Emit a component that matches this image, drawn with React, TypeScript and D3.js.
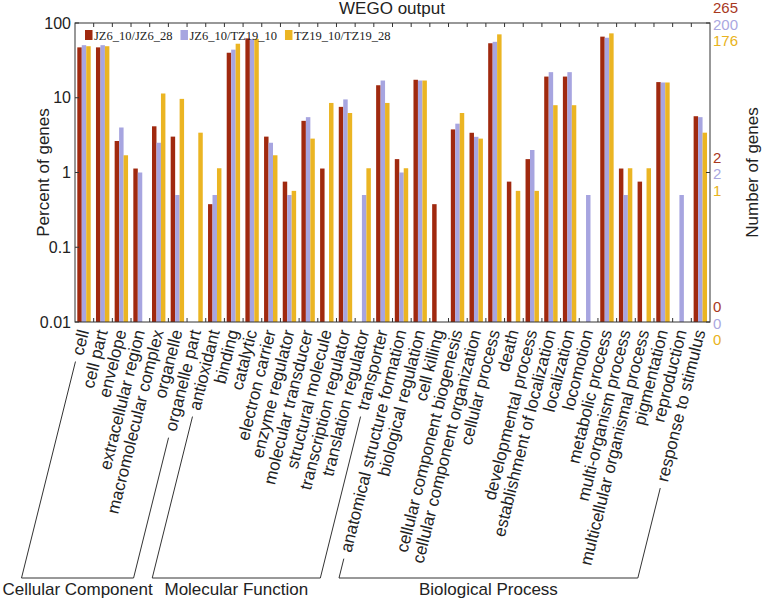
import * as d3 from "d3";

const categories = [
  "cell", "cell part", "envelope", "extracellular region", "macromolecular complex",
  "organelle", "organelle part", "antioxidant", "binding", "catalytic", "electron carrier",
  "enzyme regulator", "molecular transducer", "structural molecule", "transcription regulator",
  "translation regulator", "transporter", "anatomical structure formation", "biological regulation",
  "cell killing", "cellular component biogenesis", "cellular component organization",
  "cellular process", "death", "developmental process", "establishment of localization",
  "localization", "locomotion", "metabolic process", "multi-organism process",
  "multicellular organismal process", "pigmentation", "reproduction", "response to stimulus",
];

const groupNames = ["Cellular Component", "Molecular Function", "Biological Process"];
const groupSizes = [7, 10, 17];

const seriesNames = ["JZ6_10/JZ6_28", "JZ6_10/TZ19_10", "TZ19_10/TZ19_28"];
const seriesTotals = [265, 200, 176];
const seriesColors = ["#a0290f", "#a7a5e0", "#ebb523"];
const labelColors = ["#a8381e", "#aaa7df", "#e9b320"];

// percent of genes, null = no bar
const jz6Jz6 = [47.2, 47.2, 2.64, 1.13, 4.15, 3.02, null, 0.377, 40.0, 62.3, 3.02, 0.755, 4.91, 1.13, 7.55, null,
  14.7, 1.51, 17.4, 0.377, 3.77, 3.40, 53.6, 0.755, 1.51, 19.2, 19.2, null, 65.7, 1.13, 0.755, 16.2, null, 5.66];
const jz6Tz19 = [50.5, 50.5, 4.0, 1.0, 2.5, 0.5, null, 0.5, 44.0, 61.0, 2.5, 0.5, 5.5, null, 9.5, 0.5,
  17.0, 1.0, 17.0, null, 4.5, 3.0, 56.0, null, 2.0, 22.0, 22.0, 0.5, 63.5, 0.5, null, 16.0, 0.5, 5.5];
const tz19Tz19 = [48.9, 48.9, 1.70, null, 11.4, 9.66, 3.41, 1.14, 52.8, 61.4, 1.70, 0.568, 2.84, 8.52, 6.25, 1.14,
  8.52, 1.14, 17.0, null, 6.25, 2.84, 70.5, 0.568, 0.568, 7.95, 7.95, null, 72.7, 1.14, 1.14, 16.0, null, 3.41];
const seriesValues = [jz6Jz6, jz6Tz19, tz19Tz19];

const leftTicks = [100, 10, 1, 0.1, 0.01];
const rightTicks = [100, 1, 0.01];

const W = 762;
const H = 601;
const left = 75, right = 710, top = 23, bottom = 322;
const sans = "'Liberation Sans', Arial, sans-serif";
const ink = "#222";

// measure text width for the bracket lines
const ctx = document.createElement("canvas").getContext("2d");
function textWidth(s: string, font: string) {
  if (!ctx) return s.length * 8;
  ctx.font = font;
  return ctx.measureText(s).width;
}

export default function App() {
  const x = d3.scaleBand<string>().domain(categories).range([left, right]);
  const xs = d3.scaleBand<number>().domain([0, 1, 2]).range([2.3, 15.7]);
  const y = d3.scaleLog().domain([0.01, 100]).range([bottom, top]);

  const ang = 76;
  const rad = (ang * Math.PI) / 180;
  const dir = [-Math.cos(rad), Math.sin(rad)];
  const labelY = 330;
  const endX = (i: number) => (x(categories[i]) ?? 0) + x.bandwidth() / 2 - 1;
  const bracketY = 578;

  // where the bracket leg meets the label line
  const legTop = (i: number) => {
    const w = textWidth(categories[i], `17px ${sans}`) + 7;
    return [endX(i) + dir[0] * w, labelY + dir[1] * w];
  };
  const legBottom = (i: number) => {
    const t = (bracketY - labelY) / dir[1];
    return [endX(i) + dir[0] * t, bracketY];
  };

  let start = 0;
  const groups = groupNames.map((name, g) => {
    const a = start;
    const b = start + groupSizes[g] - 1;
    start += groupSizes[g];
    return { name, a, b };
  });

  const legendFont = `12.5px 'Liberation Serif', 'Times New Roman', serif`;
  let lx = 85;
  const legend = seriesNames.map((s, i) => {
    const item = { s, i, x: lx };
    lx += 9 + textWidth(s, legendFont) + 8;
    return item;
  });

  const boundaries = d3.range(1, categories.length).map((i) => left + i * x.step());

  return (
    <svg width={W} height={H} style={{ position: "absolute", left: 0, top: 0, background: "#fff" }}>
      {/* title */}
      <text x={392} y={14} textAnchor="middle" fontFamily={sans} fontSize={17} fill={ink}>WEGO output</text>

      {/* bars */}
      {seriesValues.map((vals, si) =>
        vals.map((v, ci) =>
          v == null ? null : (
            <rect
              key={`${si}-${ci}`}
              x={(x(categories[ci]) ?? 0) + (xs(si) ?? 0)}
              y={y(v)}
              width={xs.bandwidth()}
              height={bottom - y(v)}
              fill={seriesColors[si]}
            />
          )
        )
      )}

      {/* frame */}
      <rect x={left} y={top} width={right - left} height={bottom - top} fill="none" stroke="#333" strokeWidth={1} />
      {boundaries.map((bx, i) => (
        <g key={i} stroke="#333" strokeWidth={1}>
          <line x1={bx} x2={bx} y1={top} y2={top + 4} />
          <line x1={bx} x2={bx} y1={bottom} y2={bottom - 4} />
        </g>
      ))}

      {/* left axis */}
      {leftTicks.map((t) => (
        <g key={t}>
          <line x1={left} x2={left + 4} y1={y(t)} y2={y(t)} stroke="#333" />
          <text x={71} y={y(t)} dy="0.35em" textAnchor="end" fontFamily={sans} fontSize={16} fill={ink}>
            {t}
          </text>
        </g>
      ))}
      <text transform={`translate(43,${(top + bottom) / 2}) rotate(-90)`} textAnchor="middle" dy="0.35em"
        fontFamily={sans} fontSize={17} fill={ink}>Percent of genes</text>

      {/* right axis */}
      {rightTicks.map((t) => (
        <g key={t}>
          <line x1={right} x2={right - 4} y1={y(t)} y2={y(t)} stroke="#333" />
          {seriesTotals.map((tot, si) => (
            <text key={si} x={713} y={y(t) + (si - 1) * 16.5 + 1.5} dy="0.35em" fontFamily={sans} fontSize={15}
              fill={labelColors[si]}>
              {Math.floor((tot * t) / 100 + 1e-9)}
            </text>
          ))}
        </g>
      ))}
      <text transform={`translate(752,${(top + bottom) / 2}) rotate(-90)`} textAnchor="middle" dy="0.35em"
        fontFamily={sans} fontSize={17} fill={ink}>Number of genes</text>

      {/* legend */}
      {legend.map((d) => (
        <g key={d.s}>
          <rect x={d.x} y={30} width={7.5} height={10} fill={seriesColors[d.i]} />
          <text x={d.x + 9} y={39.5} fontFamily="'Liberation Serif', 'Times New Roman', serif" fontSize={12.5} fill={ink}>
            {d.s}
          </text>
        </g>
      ))}

      {/* category labels */}
      {categories.map((c, i) => (
        <text key={c} transform={`translate(${endX(i)},${labelY}) rotate(${-ang})`} textAnchor="end" dy="0.35em"
          fontFamily={sans} fontSize={17} fill={ink}>
          {c}
        </text>
      ))}

      {/* ontology brackets */}
      {groups.map((g) => {
        const p0 = legTop(g.a);
        const p1 = legBottom(g.a);
        const p2 = legBottom(g.b);
        const p3 = legTop(g.b);
        return (
          <g key={g.name}>
            <path d={`M${p0[0]},${p0[1]}L${p1[0]},${p1[1]}H${p2[0]}L${p3[0]},${p3[1]}`} fill="none" stroke="#333" strokeWidth={1} />
            <text x={(p1[0] + p2[0]) / 2} y={595} textAnchor="middle" fontFamily={sans} fontSize={17} fill={ink}>
              {g.name}
            </text>
          </g>
        );
      })}
    </svg>
  );
}
